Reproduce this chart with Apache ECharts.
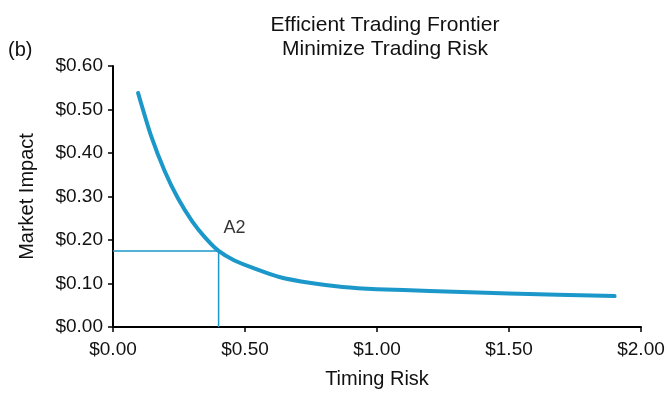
<!DOCTYPE html>
<html>
<head>
<meta charset="utf-8">
<script src="https://cdn.jsdelivr.net/npm/echarts@6/dist/echarts.min.js"></script>
<style>
html,body{margin:0;padding:0;background:#fff;}
#c{width:670px;height:396px;}
</style>
</head>
<body>
<div id="c"></div>
<script>
// Data
const timingRisk = [0.095, 0.145, 0.196, 0.246, 0.300, 0.350, 0.400, 0.460, 0.530, 0.630, 0.750, 0.870, 1.000, 1.200, 1.500, 1.900];
const marketImpact = [0.538, 0.438, 0.358, 0.296, 0.243, 0.205, 0.175, 0.153, 0.136, 0.115, 0.101, 0.092, 0.087, 0.083, 0.077, 0.071];
const refX = [0, 0.40, 0.40];
const refY = [0.175, 0.175, 0];
const pointLabel = 'A2';
const titleText = 'Efficient Trading Frontier\nMinimize Trading Risk';
const panelText = '(b)';
const xName = 'Timing Risk';
const yName = 'Market Impact';

const color = '#1b98c9';
const font = 'Liberation Sans, Arial, sans-serif';
const chart = echarts.init(document.getElementById('c'), null, {renderer: 'canvas'});
chart.setOption({
  backgroundColor: '#fff',
  animation: false,
  title: {
    text: titleText,
    left: 380, top: 8, textAlign: 'center',
    textStyle: {fontFamily: font, fontSize: 21, fontWeight: 'normal', color: '#111', lineHeight: 24}
  },
  graphic: [{
    type: 'text', left: 8, top: 40,
    style: {text: panelText, fontFamily: font, fontSize: 20, fill: '#111'}
  }],
  grid: {left: 113, right: 29, top: 66, bottom: 69},
  xAxis: {
    type: 'value', min: 0, max: 2, interval: 0.5,
    name: xName, nameLocation: 'middle', nameGap: 42,
    nameTextStyle: {fontFamily: font, fontSize: 20, color: '#111'},
    axisLine: {show: true, lineStyle: {color: '#000', width: 2}},
    axisTick: {show: true, length: 5, lineStyle: {color: '#000', width: 1.5}},
    splitLine: {show: false},
    axisLabel: {fontFamily: font, fontSize: 19, color: '#111', margin: 13,
      formatter: v => '$' + v.toFixed(2)}
  },
  yAxis: {
    type: 'value', min: 0, max: 0.6, interval: 0.1,
    name: yName, nameLocation: 'middle', nameGap: 76, nameRotate: 90,
    nameTextStyle: {fontFamily: font, fontSize: 20, color: '#111'},
    axisLine: {show: true, lineStyle: {color: '#000', width: 2}},
    axisTick: {show: true, length: 5, lineStyle: {color: '#000', width: 1.5}},
    splitLine: {show: false},
    axisLabel: {fontFamily: font, fontSize: 19, color: '#111', margin: 10,
      formatter: v => '$' + v.toFixed(2)}
  },
  series: [
    {
      type: 'line', data: refX.map((x, i) => [x, refY[i]]),
      symbol: 'none', lineStyle: {color: color, width: 1.5}, z: 1
    },
    {
      type: 'line', data: timingRisk.map((x, i) => [x, marketImpact[i]]),
      smooth: 0.25, symbol: 'none',
      lineStyle: {color: color, width: 4, cap: 'round', join: 'round'}, z: 3
    },
    {
      type: 'scatter', data: [[refX[1], refY[0]]], symbolSize: 0,
      label: {show: true, formatter: pointLabel, position: 'right', offset: [0, -23],
        fontFamily: font, fontSize: 18, color: '#000'}, z: 4
    }
  ]
});
</script>
</body>
</html>
